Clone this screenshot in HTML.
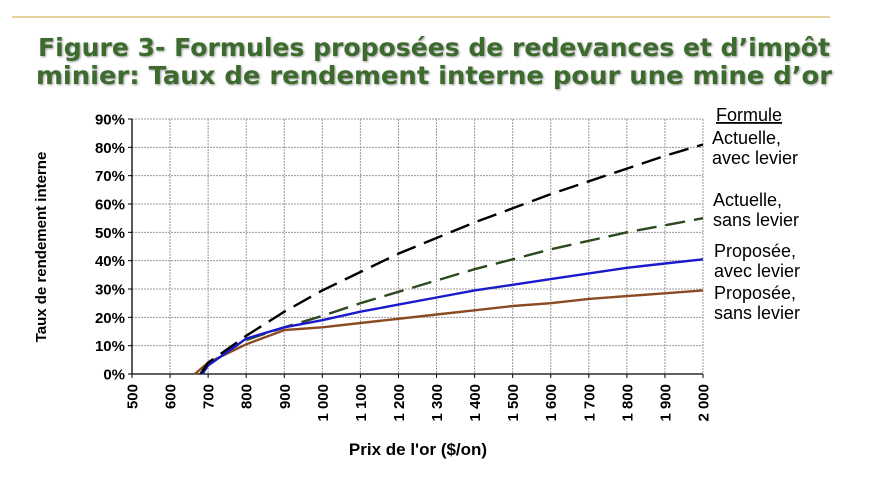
<!DOCTYPE html>
<html><head><meta charset="utf-8"><style>
body{margin:0;background:#fff;width:882px;height:481px;overflow:hidden}
svg{display:block}
</style></head><body>
<svg width="882" height="481" xmlns="http://www.w3.org/2000/svg">
<line x1="12" y1="17" x2="830" y2="17" stroke="#d8b860" stroke-width="1.2"/>
<g font-family="DejaVu Sans, sans-serif" font-weight="bold" font-size="25" fill="#3d6b2e" text-anchor="middle" style="filter:drop-shadow(1px 1px 1px #999)">
<text x="434" y="56" textLength="792" lengthAdjust="spacingAndGlyphs">Figure 3- Formules proposées de redevances et d’impôt</text>
<text x="434" y="84" textLength="796" lengthAdjust="spacingAndGlyphs">minier: Taux de rendement interne pour une mine d’or</text>
</g>
<g id="grid"></g>
<g id="axes"></g>
<g id="series"></g>
<text transform="translate(46,247) rotate(-90)" text-anchor="middle" font-family="Liberation Sans, sans-serif" font-weight="bold" font-size="15">Taux de rendement  interne</text>
<text x="418" y="455" text-anchor="middle" font-family="Liberation Sans, sans-serif" font-weight="bold" font-size="17">Prix de l'or ($/on)</text>
<g font-family="Liberation Sans, sans-serif" font-size="18" fill="#000">
<text x="716" y="121" text-decoration="underline">Formule</text>
<text x="712" y="144">Actuelle,</text>
<text x="712" y="164">avec levier</text>
<text x="713" y="206">Actuelle,</text>
<text x="713" y="226">sans levier</text>
<text x="714" y="257">Proposée,</text>
<text x="714" y="277">avec levier</text>
<text x="714" y="299">Proposée,</text>
<text x="714" y="319">sans levier</text>
</g>
</svg>
<script>
const xTicks=[500,600,700,800,900,1000,1100,1200,1300,1400,1500,1600,1700,1800,1900,2000];
const xTickLabels=["500","600","700","800","900","1 000","1 100","1 200","1 300","1 400","1 500","1 600","1 700","1 800","1 900","2 000"];
const yTicks=[0,10,20,30,40,50,60,70,80,90];
const actAvecX=[680,700,800,900,1000,1100,1200,1300,1400,1500,1600,1700,1800,1900,2000];
const actAvecY=[0,4,13.5,22,29.5,36,42.5,48,53.5,58.5,63.5,68,72.5,77,81];
const actSansX=[680,700,800,900,1000,1100,1200,1300,1400,1500,1600,1700,1800,1900,2000];
const actSansY=[0,4,12,16.5,20.5,25,29,33,37,40.5,44,47,50,52.5,55];
const propAvecX=[685,700,800,900,1000,1100,1200,1300,1400,1500,1600,1700,1800,1900,2000];
const propAvecY=[0,3,12.5,16.5,19,22,24.5,27,29.5,31.5,33.5,35.5,37.5,39,40.5];
const propSansX=[665,700,800,900,1000,1100,1200,1300,1400,1500,1600,1700,1800,1900,2000];
const propSansY=[0,4,10.5,15.5,16.5,18,19.5,21,22.5,24,25,26.5,27.5,28.5,29.5];
const NS="http://www.w3.org/2000/svg";
const X0=132,X1=703,Y0=374,Y1=119;
const sx=v=>X0+(v-500)/1500*(X1-X0);
const sy=v=>Y0-v/90*(Y0-Y1);
function mk(t,a,p){const e=document.createElementNS(NS,t);for(const k in a)e.setAttribute(k,a[k]);p.appendChild(e);return e;}
const grid=document.getElementById('grid'),axes=document.getElementById('axes'),ser=document.getElementById('series');
yTicks.forEach(v=>{if(v>0){const l=mk('line',{x1:X0,x2:X1,y1:sy(v),y2:sy(v),stroke:'#999','stroke-dasharray':'2,1','stroke-width':1},grid);

}
const t=mk('text',{x:X0-7,y:sy(v)+5.5,'text-anchor':'end','font-family':'Liberation Sans, sans-serif','font-weight':'bold','font-size':15},axes);
t.textContent=v+'%';


const tk=mk('line',{x1:X0-4,x2:X0,y1:sy(v),y2:sy(v),stroke:'#000'},axes);

});
xTicks.forEach((v,i)=>{if(v>500){const l=mk('line',{x1:sx(v),x2:sx(v),y1:Y1,y2:Y0,stroke:'#999','stroke-dasharray':'2,1','stroke-width':1},grid);

}
const tk=mk('line',{x1:sx(v),x2:sx(v),y1:Y0,y2:Y0+4,stroke:'#000'},axes);


const t=mk('text',{transform:`translate(${sx(v)+5.5},${Y0+10}) rotate(-90)`,'text-anchor':'end','font-family':'Liberation Sans, sans-serif','font-weight':'bold','font-size':15},axes);
t.textContent=xTickLabels[i];

});
const ax=mk('path',{d:`M${X0},${Y1}V${Y0}H${X1}`,fill:'none',stroke:'#000','stroke-width':1.3},axes);


const rg=mk('line',{x1:X1,x2:X1,y1:Y1,y2:Y0,stroke:'#999','stroke-dasharray':'2,1'},grid);


const tg=mk('line',{x1:X0,x2:X1,y1:Y1,y2:Y1,stroke:'#999','stroke-dasharray':'2,1'},grid);


function line(xs,ys,color,dash,name){const d=xs.map((x,i)=>(i?'L':'M')+sx(x).toFixed(1)+','+sy(ys[i]).toFixed(1)).join('');
const p=mk('path',{d:d,fill:'none',stroke:color,'stroke-width':2.4},ser);
if(dash)p.setAttribute('stroke-dasharray',dash);

}
line(propSansX,propSansY,'#8b4a22',null,'line-proposee-sans-levier');
line(actSansX,actSansY,'#2d4a1e','20,9','line-actuelle-sans-levier');
line(propAvecX,propAvecY,'#1a1acc',null,'line-proposee-avec-levier');
line(actAvecX,actAvecY,'#000','20,9','line-actuelle-avec-levier');
</script>
</body></html>
